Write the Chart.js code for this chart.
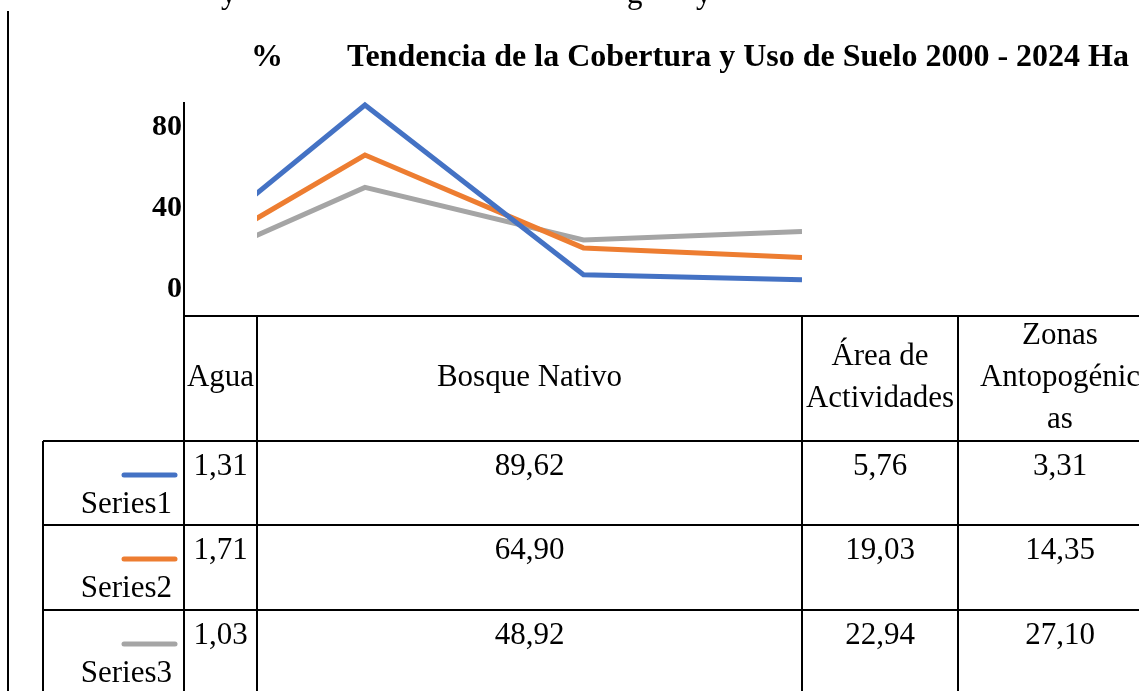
<!DOCTYPE html>
<html lang="es">
<head>
  <meta charset="utf-8">
  <title>Tendencia de la Cobertura y Uso de Suelo</title>
  <script src="https://cdn.jsdelivr.net/npm/chart.js"></script>
  <style>
    body { margin: 0; background: #fff; }
    canvas { display: block; }
  </style>
</head>
<body>
  <canvas id="graficoSuelo" width="1139" height="691"></canvas>

  <script>
    // datos
    const categorias = ['Agua', 'Bosque Nativo', 'Área de Actividades', 'Zonas Antopogénicas'];
    const encabezados = [['Agua'], ['Bosque Nativo'], ['Área de', 'Actividades'], ['Zonas', 'Antopogénic', 'as']];
    const nombresSeries = ['Series1', 'Series2', 'Series3'];
    const serie1 = [1.31, 89.62, 5.76, 3.31];
    const serie2 = [1.71, 64.90, 19.03, 14.35];
    const serie3 = [1.03, 48.92, 22.94, 27.10];
    const ticksY = [0, 40, 80];

    const colores = ['#4472C4', '#ED7D31', '#A5A5A5'];
    const fuente = '"Liberation Serif", "Times New Roman", serif';

    // posiciones de la tabla de datos (px)
    const colX = [43, 184, 257, 802, 958, 1162];
    const filaY = [316, 441, 525, 610, 694];

    const fmt = v => v.toFixed(2).replace('.', ',');

    const tablaDatos = {
      id: 'tablaDatos',
      afterDraw(chart) {
        const ctx = chart.ctx;
        const W = chart.width, H = chart.height;
        ctx.save();
        ctx.fillStyle = '#000';

        // texto cortado de la línea superior del documento
        ctx.font = '31px ' + fuente;
        ctx.textAlign = 'left';
        ctx.textBaseline = 'alphabetic';
        ctx.fillText('y', 221, 3);
        ctx.fillText('g', 627, 3);
        ctx.fillText('y', 696, 3);

        // título
        ctx.font = 'bold 32px ' + fuente;
        ctx.fillText('%', 251, 66);
        ctx.fillText('Tendencia de la Cobertura y Uso de Suelo 2000 - 2024 Ha', 347, 66);

        // líneas
        ctx.strokeStyle = '#000';
        ctx.lineWidth = 2;
        const linea = (x1, y1, x2, y2) => {
          ctx.beginPath(); ctx.moveTo(x1, y1); ctx.lineTo(x2, y2); ctx.stroke();
        };
        linea(8, 11, 8, H);
        linea(colX[1], filaY[0], W, filaY[0]);
        for (let i = 1; i < filaY.length - 1; i++) linea(colX[0], filaY[i], W, filaY[i]);
        linea(colX[0], filaY[1], colX[0], H);
        for (let i = 1; i < colX.length - 1; i++) linea(colX[i], filaY[0], colX[i], H);

        // encabezados
        ctx.font = '31px ' + fuente;
        ctx.textAlign = 'center';
        encabezados.forEach((lineas, c) => {
          const cx = (colX[c + 1] + colX[c + 2]) / 2;
          const lh = 42;
          const y0 = 386 - (lineas.length - 1) * lh / 2;
          lineas.forEach((t, k) => ctx.fillText(t, cx, y0 + k * lh));
        });

        // filas con valores y claves de leyenda
        [serie1, serie2, serie3].forEach((serie, r) => {
          const top = filaY[r + 1];
          ctx.textAlign = 'center';
          serie.forEach((v, c) => {
            const cx = (colX[c + 1] + colX[c + 2]) / 2;
            ctx.fillText(fmt(v), cx, top + 34);
          });
          ctx.save();
          ctx.strokeStyle = colores[r];
          ctx.lineWidth = 5;
          ctx.lineCap = 'round';
          linea(124, top + 34, 175, top + 34);
          ctx.restore();
          ctx.textAlign = 'right';
          ctx.fillText(nombresSeries[r], 172, top + 72);
        });

        ctx.restore();
      }
    };

    const aPuntos = serie => serie.map((v, i) => ({ x: i, y: v }));

    new Chart(document.getElementById('graficoSuelo'), {
      type: 'line',
      data: {
        datasets: [serie1, serie2, serie3].map((s, i) => ({
          label: nombresSeries[i],
          data: aPuntos(s),
          borderColor: colores[i],
          borderWidth: 5,
          pointRadius: 0,
          tension: 0,
          clip: { left: -73, top: 10, right: 0, bottom: 0 }
        }))
      },
      options: {
        responsive: false,
        animation: false,
        devicePixelRatio: 1,
        layout: { padding: { left: 0, top: 103, right: 337, bottom: 375 } },
        plugins: { legend: { display: false }, title: { display: false }, tooltip: { enabled: false } },
        scales: {
          x: { type: 'linear', min: 0.172, max: 3, display: false },
          y: {
            type: 'linear',
            min: -14.6,
            max: 90.6,
            afterBuildTicks: s => { s.ticks = ticksY.map(v => ({ value: v })); },
            afterFit: s => { s.width = 184; },
            grid: { display: false, drawTicks: false },
            border: { display: true, color: '#000', width: 2 },
            ticks: { color: '#000', padding: 2, labelOffset: 3, font: { family: fuente, size: 30, weight: 'bold' } }
          }
        }
      },
      plugins: [tablaDatos]
    });
  </script>
</body>
</html>
